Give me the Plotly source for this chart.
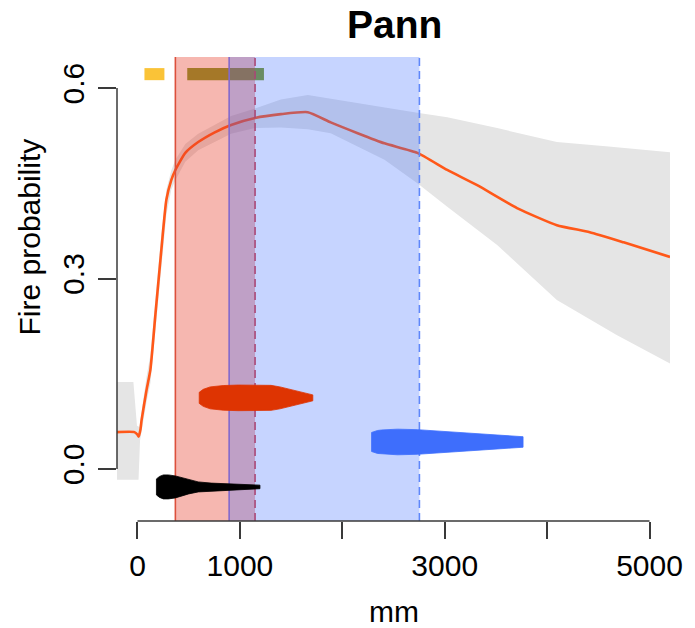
import plotly.graph_objects as go

# ---------------- data ----------------
title_text = "Pann"
x_title = "mm"
y_title = "Fire probability"

x_tick_vals = [0, 1000, 2000, 3000, 4000, 5000]
x_tick_text = ["0", "1000", "", "3000", "", "5000"]
y_tick_vals = [0.0, 0.3, 0.6]
y_tick_text = ["0.0", "0.3", "0.6"]

# mean fire-probability response curve
curve_x = [-200, -30, 0, 12, 30, 40, 88, 126, 175, 233, 282, 330, 370, 467, 593, 750,
           914, 1148, 1401, 1663, 1887, 2150, 2412, 2733, 3025, 3317, 3706, 4095,
           4416, 4747, 5200]
curve_y = [0.058, 0.058, 0.054, 0.051, 0.063, 0.077, 0.124, 0.156, 0.243, 0.345, 0.424,
           0.455, 0.471, 0.498, 0.515, 0.530, 0.542, 0.553, 0.559, 0.562, 0.546, 0.529,
           0.513, 0.498, 0.471, 0.447, 0.411, 0.384, 0.373, 0.357, 0.334]

# confidence envelope
upper_x = [-200, -40, -5, 20, 40, 88, 126, 175, 233, 282, 330, 370, 467, 593, 914,
           1148, 1400, 1663, 1955, 2400, 2733, 3025, 3512, 4095, 4600, 5200]
upper_y = [0.137, 0.137, 0.068, 0.066, 0.090, 0.145, 0.180, 0.270, 0.370, 0.440, 0.470,
           0.487, 0.512, 0.528, 0.556, 0.568, 0.582, 0.589, 0.581, 0.570, 0.561, 0.554,
           0.537, 0.515, 0.508, 0.499]
lower_x = [-200, 10, 25, 40, 88, 126, 175, 233, 282, 330, 370, 467, 593, 914, 1148,
           1400, 1663, 1887, 2150, 2412, 2733, 3025, 3512, 4095, 4679, 5200]
lower_y = [-0.017, -0.017, 0.045, 0.062, 0.105, 0.135, 0.220, 0.320, 0.400, 0.440, 0.455,
           0.484, 0.502, 0.528, 0.537, 0.538, 0.535, 0.529, 0.508, 0.487, 0.450, 0.413,
           0.353, 0.266, 0.211, 0.166]

# shaded ranges (mm)
red_range = [370, 1148]
blue_range = [895, 2753]

# top bars (mm)
yellow_bar = [68, 263]
olive_bar = [486, 1235]
bar_level = 0.622

# horizontal violins: positions (mm) and half-widths (probability units)
black_violin_x = [185, 215, 253, 302, 370, 428, 500, 593, 720, 982, 1196]
black_violin_w = [0.0126, 0.0165, 0.0189, 0.0189, 0.0173, 0.0150, 0.0110, 0.0079,
                  0.0060, 0.0043, 0.0028]
black_level = -0.0283

red_violin_x = [603, 642, 710, 837, 982, 1177, 1304, 1391, 1469, 1566, 1634, 1712]
red_violin_w = [0.0087, 0.0134, 0.0173, 0.0194, 0.0202, 0.0202, 0.0197, 0.0173, 0.0142,
                0.0102, 0.0079, 0.0047]
red_level = 0.112

blue_violin_x = [2286, 2344, 2383, 2539, 2733, 3122, 3512, 3765]
blue_violin_w = [0.0150, 0.0181, 0.0189, 0.0202, 0.0194, 0.0157, 0.0110, 0.0083]
blue_level = 0.0425

# ---------------- layout constants ----------------
X_RANGE = [-200, 5200]
Y_RANGE = [-0.082, 0.649]
W, H = 695, 628
ML, MR, MT, MB = 117, 22, 57, 107
PW, PH = W - ML - MR, H - MT - MB
FONT = "Liberation Sans, Arial, sans-serif"
BAR_HALF = 0.0095


def px_to_paper_x(px):
    return (px - ML) / PW


def px_to_paper_y(py):
    return (H - MB - py) / PH


fig = go.Figure()

# confidence envelope
fig.add_trace(go.Scatter(
    x=upper_x + lower_x[::-1], y=upper_y + lower_y[::-1],
    fill="toself", fillcolor="rgb(229,229,229)", line=dict(width=0),
    mode="lines", hoverinfo="skip", showlegend=False))

# curve
fig.add_trace(go.Scatter(
    x=curve_x, y=curve_y, mode="lines",
    line=dict(color="rgb(255,88,25)", width=2.6, shape="spline", smoothing=0.5),
    showlegend=False))

# top bars
for (a, b), col in [(yellow_bar, "rgb(250,195,55)"), (olive_bar, "rgb(127,155,40)")]:
    fig.add_trace(go.Scatter(
        x=[a, b, b, a, a],
        y=[bar_level - BAR_HALF, bar_level - BAR_HALF, bar_level + BAR_HALF,
           bar_level + BAR_HALF, bar_level - BAR_HALF],
        fill="toself", fillcolor=col, line=dict(width=0), mode="lines",
        hoverinfo="skip", showlegend=False))


def band(rng, fillcol, lcol_left, lcol_right):
    a, b = rng
    y0, y1 = Y_RANGE
    fig.add_trace(go.Scatter(
        x=[a, b, b, a, a], y=[y0, y0, y1, y1, y0],
        fill="toself", fillcolor=fillcol, line=dict(width=0), mode="lines",
        hoverinfo="skip", showlegend=False))
    fig.add_trace(go.Scatter(
        x=[a, a], y=[y0, y1], mode="lines",
        line=dict(color=lcol_left, width=1.6), showlegend=False))
    fig.add_trace(go.Scatter(
        x=[b, b], y=[y0, y1], mode="lines",
        line=dict(color=lcol_right, width=1.6, dash="8px,5px"), showlegend=False))


band(red_range, "rgba(230,60,40,0.37)", "rgb(220,80,60)", "rgb(215,60,65)")
band(blue_range, "rgba(50,100,255,0.28)", "rgb(130,105,205)", "rgb(95,135,250)")


def violin(xs, ws, level, col):
    top = [level + w for w in ws]
    bot = [level - w for w in ws]
    fig.add_trace(go.Scatter(
        x=xs + xs[::-1] + [xs[0]], y=top + bot[::-1] + [top[0]],
        fill="toself", fillcolor=col, line=dict(width=0.8, color=col), mode="lines",
        hoverinfo="skip", showlegend=False))


violin(black_violin_x, black_violin_w, black_level, "black")
violin(red_violin_x, red_violin_w, red_level, "rgb(222,52,2)")
violin(blue_violin_x, blue_violin_w, blue_level, "rgb(62,110,252)")

axis_col = "#3a3a3a"
fig.update_layout(
    width=W, height=H,
    margin=dict(l=ML, r=MR, t=MT, b=MB),
    paper_bgcolor="white", plot_bgcolor="white",
    font=dict(family=FONT, color="black"),
    xaxis=dict(range=X_RANGE, showgrid=False, zeroline=False, showline=False,
               tickmode="array", tickvals=x_tick_vals, ticktext=x_tick_text,
               ticks="outside", ticklen=17, tickwidth=1.5, tickcolor=axis_col,
               tickfont=dict(size=30, family=FONT, color="black"),
               ticklabelstandoff=1),
    yaxis=dict(range=Y_RANGE, showgrid=False, zeroline=False, showline=False,
               tickmode="array", tickvals=y_tick_vals, ticktext=y_tick_text,
               ticks="outside", ticklen=18, tickwidth=1.5, tickcolor=axis_col,
               tickangle=-90,
               tickfont=dict(size=30, family=FONT, color="black"),
               ticklabelstandoff=2),
    shapes=[
        dict(type="line", xref="x", yref="paper", x0=x_tick_vals[0], x1=x_tick_vals[-1],
             y0=0, y1=0, line=dict(color=axis_col, width=1.5)),
        dict(type="line", xref="paper", yref="y", x0=0, x1=0,
             y0=y_tick_vals[0], y1=y_tick_vals[-1], line=dict(color=axis_col, width=1.5)),
    ],
    annotations=[
        dict(text="<b>" + title_text + "</b>", xref="paper", yref="paper",
             x=px_to_paper_x(396), y=px_to_paper_y(24), xanchor="center", yanchor="middle",
             showarrow=False, font=dict(size=39, family=FONT, color="black")),
        dict(text=x_title, xref="paper", yref="paper",
             x=px_to_paper_x(395), y=px_to_paper_y(611), xanchor="center", yanchor="middle",
             showarrow=False, font=dict(size=30, family=FONT, color="black")),
        dict(text=y_title, xref="paper", yref="paper", textangle=-90,
             x=px_to_paper_x(29), y=px_to_paper_y(237), xanchor="center", yanchor="middle",
             showarrow=False, font=dict(size=30, family=FONT, color="black")),
    ],
)

fig.write_html("out.html", config={"displayModeBar": False},
               post_script="document.body.style.margin='0px';")
